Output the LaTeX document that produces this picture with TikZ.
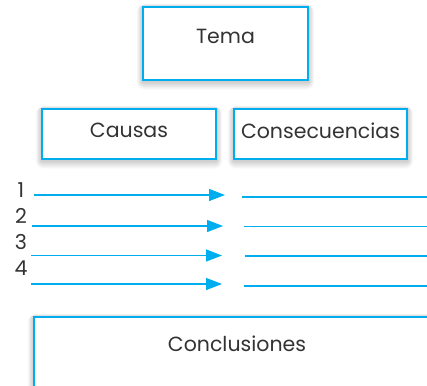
\documentclass[tikz,border=0pt]{standalone}
\usepackage{fontspec}
\setmainfont{Poppins}
\usepackage{tikz}
\usetikzlibrary{arrows.meta, backgrounds}
\definecolor{cyanline}{RGB}{0,174,239}
\definecolor{inkgray}{RGB}{51,51,51}
\def\fsize{20.5}
\def\tipL{16pt}
\def\tipW{12pt}

\begin{document}
\begin{tikzpicture}[
    x=1pt, y=-1pt,
    >={Triangle[length=\tipL,width=\tipW]},
    every node/.style={font=\fontsize{\fsize}{\fsize}\selectfont, text=inkgray},
    titlebox/.style={rectangle, draw=cyanline, line width=1.1pt, fill=white,
        inner sep=0pt},
    shadowpart/.style={black, opacity=0.022},
    rowline/.style={cyanline, line width=1.3pt}
]
\clip (0,0) rectangle (427,385);

% top and middle boxes
\node[titlebox, minimum width=165pt, minimum height=73pt,
    label={[yshift=7.5pt]center:Tema}] (tema) at (225.5,43.5) {};
\node[titlebox, minimum width=174pt, minimum height=50pt,
    label={[yshift=4pt]center:Causas}] (causas) at (129,134) {};
\node[titlebox, minimum width=173pt, minimum height=50pt,
    label={[yshift=3pt]center:Consecuencias}] (consec) at (320.5,134) {};

% bottom box, runs off the page
\node[titlebox, minimum width=420pt, minimum height=100pt,
    label={[xshift=-7pt, yshift=23pt]center:Conclusiones}] (concl) at (244,367) {};

% soft shadows
\begin{scope}[on background layer]
\fill[white] (0,0) rectangle (427,385);
\foreach \b in {tema, causas, consec, concl}{
  \foreach \k in {1,...,8}{
    \fill[shadowpart, rounded corners=\k pt]
      ([xshift=-0.7*\k pt, yshift=-1pt-\k pt]\b.south west)
      rectangle ([xshift=0.7*\k pt, yshift=0.3*\k pt]\b.north east);
  }
}
\end{scope}

% numbered rows
\foreach \n/\ya/\yb/\xa/\xb/\xc/\yn in {%
    1/195/197/34/242/225/190,
    2/226/226.5/32/244/223/216,
    3/255.5/256/31/245/222/242,
    4/284/286/31/244/222/268}{
  \node (num\n) at (21,\yn) {\n};
  \coordinate (ca\n) at (\xa,\ya);
  \coordinate (cb\n) at (\xc,\ya);
  \coordinate (sa\n) at (\xb,\yb);
  \coordinate (sb\n) at (427,\yb);
  \draw[rowline, ->] (ca\n) -- (cb\n);
  \draw[rowline] (sa\n) -- (sb\n);
}
\end{tikzpicture}
\end{document}
